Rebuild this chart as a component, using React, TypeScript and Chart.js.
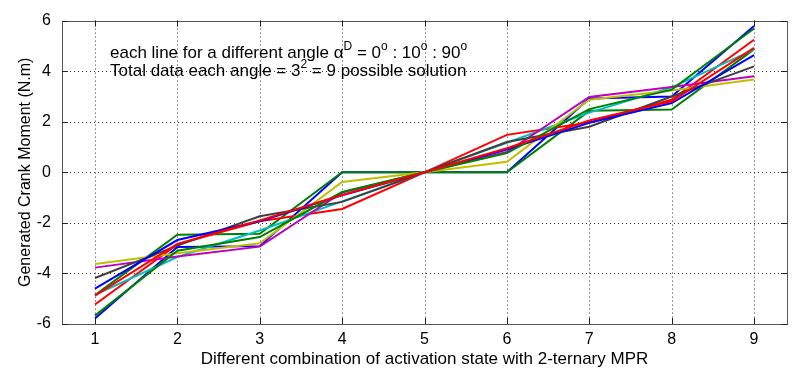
import React, { useEffect, useRef } from "react";
import { Chart, registerables } from "chart.js";

Chart.register(...registerables);

// ---- data ----
const xValues = [1, 2, 3, 4, 5, 6, 7, 8, 9];
const xTicks = [1, 2, 3, 4, 5, 6, 7, 8, 9];
const yTicks = [-6, -4, -2, 0, 2, 4, 6];

const angle0 = [-5.78, -2.95, -2.92, 0, 0, 0, 2.92, 3.0, 5.79];
const angle10 = [-4.86, -2.47, -2.43, 0, 0, 0, 2.43, 2.48, 4.86];
const angle20 = [-5.23, -2.85, -1.94, -1.45, 0, 1.48, 1.97, 2.87, 5.24];
const angle30 = [-4.85, -3.35, -2.3, -1.15, 0, 1.17, 2.36, 3.36, 4.85];
const angle40 = [-3.77, -3.33, -2.94, -0.8, 0, 0.8, 2.98, 3.37, 3.8];
const angle50 = [-3.63, -3.2, -2.81, -0.38, 0, 0.42, 2.87, 3.24, 3.67];
const angle60 = [-4.18, -2.9, -1.74, -1.17, 0, 1.2, 1.8, 3.0, 4.19];
const angle70 = [-4.6, -2.68, -1.94, -0.91, 0, 0.9, 1.96, 2.74, 4.63];
const angle80 = [-5.67, -3.1, -2.56, -0.78, 0, 0.76, 2.5, 3.27, 5.69];
const angle90 = [-4.88, -2.83, -1.9, -0.9, 0, 0.95, 2.05, 2.81, 4.92];

const seriesList = [angle0, angle10, angle20, angle30, angle40, angle50, angle60, angle70, angle80, angle90];
const seriesColors = [
  "#0000ff",
  "#008000",
  "#ff0000",
  "#00bfbf",
  "#bf00bf",
  "#bfbf00",
  "#404040",
  "#0000ff",
  "#008000",
  "#ff0000",
];

const xTitle = "Different combination of activation state with 2-ternary MPR";
const yTitle = "Generated Crank Moment (N.m)";

const FONT = "'Liberation Sans', Arial, Helvetica, sans-serif";

type Seg = { t: string; sup?: boolean };
const note1: Seg[] = [
  { t: "each line for a different angle " },
  { t: "α" },
  { t: "D", sup: true },
  { t: " = 0" },
  { t: "o", sup: true },
  { t: " : 10" },
  { t: "o", sup: true },
  { t: " : 90" },
  { t: "o", sup: true },
];
const note2: Seg[] = [
  { t: "Total data each angle = 3" },
  { t: "2", sup: true },
  { t: " = 9 possible solution" },
];

function drawSegs(ctx: CanvasRenderingContext2D, segs: Seg[], x: number, y: number, size: number) {
  let cx = x;
  ctx.textBaseline = "alphabetic";
  ctx.textAlign = "left";
  for (const s of segs) {
    if (s.sup) {
      ctx.font = `${Math.round(size * 0.72)}px ${FONT}`;
      ctx.fillText(s.t, cx, y - size * 0.45);
    } else {
      ctx.font = `${size}px ${FONT}`;
      ctx.fillText(s.t, cx, y);
    }
    cx += ctx.measureText(s.t).width;
  }
}

const framePlugin = {
  id: "matlabFrame",
  beforeDatasetsDraw(chart: any) {
    const { ctx, chartArea: a, scales } = chart;
    ctx.save();
    ctx.strokeStyle = "#333";
    ctx.lineWidth = 1;
    ctx.setLineDash([1, 3]);
    for (const v of xTicks) {
      const px = Math.round(scales.x.getPixelForValue(v)) + 0.5;
      ctx.beginPath();
      ctx.moveTo(px, a.top);
      ctx.lineTo(px, a.bottom);
      ctx.stroke();
    }
    for (const v of yTicks) {
      const py = Math.round(scales.y.getPixelForValue(v)) + 0.5;
      ctx.beginPath();
      ctx.moveTo(a.left, py);
      ctx.lineTo(a.right, py);
      ctx.stroke();
    }
    ctx.restore();
  },
  afterDatasetsDraw(chart: any) {
    const { ctx, chartArea: a, scales } = chart;
    ctx.save();
    ctx.setLineDash([]);
    ctx.strokeStyle = "#555";
    ctx.lineWidth = 1;
    ctx.strokeRect(Math.round(a.left) + 0.5, Math.round(a.top) + 0.5, Math.round(a.right - a.left), Math.round(a.bottom - a.top));
    const tl = 6;
    ctx.strokeStyle = "#222";
    for (const v of xTicks) {
      const px = Math.round(scales.x.getPixelForValue(v)) + 0.5;
      ctx.beginPath();
      ctx.moveTo(px, a.bottom);
      ctx.lineTo(px, a.bottom - tl);
      ctx.moveTo(px, a.top);
      ctx.lineTo(px, a.top + tl);
      ctx.stroke();
    }
    for (const v of yTicks) {
      const py = Math.round(scales.y.getPixelForValue(v)) + 0.5;
      ctx.beginPath();
      ctx.moveTo(a.left, py);
      ctx.lineTo(a.left + tl, py);
      ctx.moveTo(a.right, py);
      ctx.lineTo(a.right - tl, py);
      ctx.stroke();
    }
    // annotation text
    ctx.fillStyle = "#000";
    drawSegs(ctx, note1, 110, 58, 17);
    drawSegs(ctx, note2, 110, 76, 17);
    // axis titles
    ctx.font = `17px ${FONT}`;
    ctx.textAlign = "center";
    ctx.textBaseline = "alphabetic";
    ctx.fillText(xTitle, (a.left + a.right) / 2, 364);
    ctx.font = `16px ${FONT}`;
    ctx.save();
    ctx.translate(30, (a.top + a.bottom) / 2);
    ctx.rotate(-Math.PI / 2);
    ctx.fillText(yTitle, 0, 0);
    ctx.restore();
    ctx.restore();
  },
};

export default function App() {
  const ref = useRef<HTMLCanvasElement | null>(null);
  useEffect(() => {
    document.body.style.margin = "0";
    const canvas = ref.current;
    if (!canvas) return;
    const chart = new Chart(canvas, {
      type: "line",
      data: {
        datasets: seriesList.map((s, i) => ({
          label: `${i * 10}°`,
          data: xValues.map((x, j) => ({ x, y: s[j] })),
          borderColor: seriesColors[i],
          backgroundColor: seriesColors[i],
          borderWidth: 2,
          pointRadius: 0,
          tension: 0,
          fill: false,
          order: seriesList.length - i,
        })),
      },
      options: {
        responsive: false,
        animation: false,
        devicePixelRatio: 1,
        layout: { padding: { top: 12, right: 5, left: 0, bottom: 0 } },
        plugins: { legend: { display: false }, tooltip: { enabled: false }, title: { display: false } },
        scales: {
          x: {
            type: "linear",
            min: 0.6,
            max: 9.4,
            afterBuildTicks: (scale: any) => {
              scale.ticks = xTicks.map((v) => ({ value: v }));
            },
            afterFit: (scale: any) => {
              scale.height = 49;
            },
            grid: { display: false, drawTicks: false },
            border: { display: false },
            ticks: { color: "#000", font: { family: FONT, size: 16 }, padding: 6, maxRotation: 0, autoSkip: false },
          },
          y: {
            type: "linear",
            min: -6,
            max: 6,
            afterBuildTicks: (scale: any) => {
              scale.ticks = yTicks.map((v) => ({ value: v }));
            },
            afterFit: (scale: any) => {
              scale.width = 62;
            },
            grid: { display: false, drawTicks: false },
            border: { display: false },
            ticks: { color: "#000", font: { family: FONT, size: 16 }, padding: 11, autoSkip: false },
          },
        },
      },
      plugins: [framePlugin],
    } as any);
    return () => chart.destroy();
  }, []);
  return (
    <div style={{ width: 792, height: 373, background: "#fff" }}>
      <canvas ref={ref} width={792} height={373} style={{ display: "block" }} />
    </div>
  );
}
